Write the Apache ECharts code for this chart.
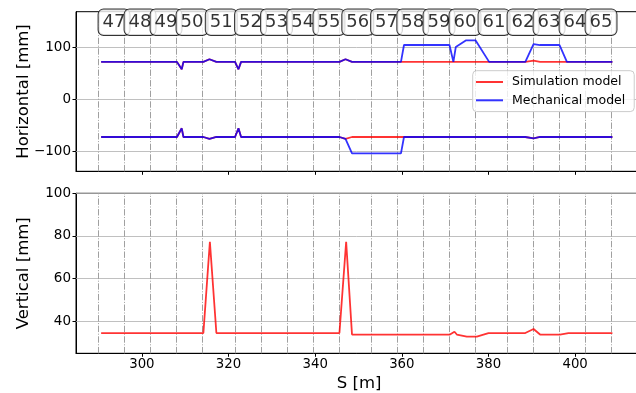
<!DOCTYPE html>
<html><head><meta charset="utf-8">
<script src="https://cdn.jsdelivr.net/npm/echarts@6/dist/echarts.min.js"></script>
<style>html,body{margin:0;padding:0;background:#fff}#c{width:636px;height:393px}</style>
</head><body><div id="c"></div>
<script>
// ---- data ----
const cellLabels = ['47','48','49','50','51','52','53','54','55','56','57','58','59','60','61','62','63','64','65'];
const cellBounds = [290.0, 296.0, 302.0, 308.0, 314.0, 321.5, 327.5, 333.5, 339.6, 345.6, 352.9, 358.9, 365.0, 371.0, 377.0, 384.4, 390.4, 396.4, 402.4, 408.4];
const xTicks = [300, 320, 340, 360, 380, 400];
const hTicks = [-100, 0, 100];
const vTicks = [40, 60, 80, 100];

// Simulation model, horizontal aperture
const simHS      = [290.6, 308.1, 309.2, 309.6, 314.2, 315.6, 317.2, 321.5, 322.3, 322.9, 345.6, 347.0, 348.5, 388.5, 390.4, 391.9, 408.6];
const simHUpper  = [72, 72, 57.7, 72, 72, 77, 72, 72, 57.7, 72, 72, 77, 72, 72, 74.2, 72, 72];
const simHLower  = [-72.5, -72.5, -55.8, -72.5, -72.5, -76.3, -72.5, -72.5, -55.8, -72.5, -72.5, -76.3, -72.5, -72.5, -75, -72.5, -72.5];

// Mechanical model, horizontal aperture
const mechUpperS = [290.6, 308.1, 309.2, 309.6, 314.2, 315.6, 317.2, 321.5, 322.3, 322.9, 345.6, 347.0, 348.5, 359.8, 360.5, 371.0, 371.9, 372.45, 374.85, 377.0, 380.15, 388.5, 390.4, 391.9, 396.4, 398.1, 408.6];
const mechUpper  = [72, 72, 57.7, 72, 72, 77, 72, 72, 57.7, 72, 72, 77, 72, 72, 104.4, 104.4, 72, 100.5, 113.5, 113.5, 72, 72, 106.3, 104.4, 104.4, 72, 72];
const mechLowerS = [290.6, 308.1, 309.2, 309.6, 314.2, 315.6, 317.2, 321.5, 322.3, 322.9, 345.6, 347.0, 348.5, 359.8, 360.5, 388.5, 390.4, 391.9, 408.6];
const mechLower  = [-72.5, -72.5, -55.8, -72.5, -72.5, -76.3, -72.5, -72.5, -55.8, -72.5, -72.5, -76, -104, -104, -72.5, -72.5, -75, -72.5, -72.5];

// Simulation model, vertical aperture
const simVS = [290.6, 302.3, 302.7, 303.1, 308.8, 309.2, 309.6, 314.2, 315.7, 317.2, 321.9, 322.3, 322.7, 340.0, 340.4, 340.8, 345.6, 347.15, 348.5, 359.3, 359.7, 360.3, 371.1, 372.15, 372.7, 375.0, 377.3, 380.0, 388.5, 390.4, 391.9, 396.5, 398.45, 408.6];
const simV  = [34.5, 34.5, 34.9, 34.5, 34.5, 34.9, 34.5, 34.5, 77.3, 34.5, 34.5, 34.9, 34.5, 34.5, 34.9, 34.5, 34.5, 77.3, 33.8, 33.8, 33.4, 33.8, 33.8, 35.1, 33.8, 32.8, 32.8, 34.5, 34.5, 36.4, 33.8, 33.8, 34.5, 34.5];

// ---- chart ----
const FONT = 'DejaVu Sans';
const RED = 'rgba(255,0,0,0.8)';
const BLUE = 'rgba(0,0,255,0.8)';
const zip = (xs, ys) => xs.map((x, i) => [x, ys[i]]);
const minus = v => String(v).replace('-', '\u2212');
const LABEL_Y = 148.4;

const gridStyle = { color: '#b0b0b0', width: 0.8, type: 'solid' };
const dashStyle = { color: '#a0a0a0', width: 1, type: [6.4, 1.6, 1, 1.6] };

function guideLines(yVals) {
  return {
    silent: true, symbol: ['none', 'none'], z: 1, animation: false,
    label: { show: false },
    emphasis: { disabled: true },
    data: [
      ...yVals.map(v => ({ yAxis: v, lineStyle: gridStyle })),
      ...cellBounds.map(v => ({ xAxis: v, lineStyle: dashStyle }))
    ]
  };
}

function xAxisCfg(idx, showLabels) {
  return {
    type: 'value', gridIndex: idx, min: 284.8, max: 415.5,
    axisLine: { show: true, onZero: false, lineStyle: { color: '#000', width: 1 } },
    axisTick: { show: true, customValues: xTicks, length: 3.5, lineStyle: { color: '#000' } },
    axisLabel: { show: showLabels, customValues: xTicks, fontSize: 13.3, fontFamily: FONT, color: '#000', margin: 5 },
    splitLine: { show: false },
    name: showLabels ? 'S [m]' : '', nameLocation: 'middle', nameGap: 21.5, nameMoveOverlap: false,
    nameTextStyle: { fontSize: 16.5, fontFamily: FONT, color: '#000', verticalAlign: 'top' }
  };
}
function yAxisCfg(idx, min, max, ticks, name) {
  return {
    type: 'value', gridIndex: idx, min: min, max: max,
    axisLine: { show: true, onZero: false, lineStyle: { color: '#000', width: 1 } },
    axisTick: { show: true, customValues: ticks, length: 3.5, lineStyle: { color: '#000' } },
    axisLabel: { customValues: ticks, fontSize: 13.5, fontFamily: FONT, color: '#000', margin: 5, formatter: minus },
    splitLine: { show: false },
    name: name, nameLocation: 'middle', nameGap: 44, nameMoveOverlap: false,
    nameTextStyle: { fontSize: 16.5, fontFamily: FONT, color: '#000' }
  };
}
function lineSeries(name, data, color, xi, yi, z, marks) {
  const s = {
    type: 'line', name: name, data: data, xAxisIndex: xi, yAxisIndex: yi,
    showSymbol: false, symbol: 'none', z: z, animation: false,
    color: color, lineStyle: { color: color, width: 1.8 },
    emphasis: { disabled: true }
  };
  if (marks) s.markLine = marks;
  return s;
}

const chart = echarts.init(document.getElementById('c'), null, { renderer: 'canvas' });
chart.setOption({
  animation: false,
  backgroundColor: '#fff',
  textStyle: { fontFamily: FONT },
  grid: [
    { left: 76, top: 11.7, width: 566.3, height: 159.6, show: true, borderColor: '#000', borderWidth: 1, backgroundColor: 'transparent', outerBoundsMode: 'none', containLabel: false },
    { left: 76, top: 193.3, width: 566.3, height: 160, show: true, borderColor: '#000', borderWidth: 1, backgroundColor: 'transparent', outerBoundsMode: 'none', containLabel: false }
  ],
  xAxis: [xAxisCfg(0, false), xAxisCfg(1, true)],
  yAxis: [
    yAxisCfg(0, -138.5, 168.5, hTicks, 'Horizontal [mm]'),
    yAxisCfg(1, 25, 100, vTicks, 'Vertical [mm]')
  ],
  legend: {
    data: ['Simulation model', 'Mechanical model'],
    orient: 'vertical', left: 472.7, top: 70.7,
    icon: 'rect', itemWidth: 27, itemHeight: 2, itemGap: 3.3,
    padding: [3.8, 9, 3.8, 3.3],
    backgroundColor: 'rgba(255,255,255,0.8)', borderColor: '#cccccc', borderWidth: 1, borderRadius: 4,
    textStyle: { fontSize: 12.5, fontFamily: FONT, color: '#000', lineHeight: 15, padding: [0, 0, 0, 4] },
    selectedMode: false
  },
  series: [
    lineSeries('Simulation model', zip(simHS, simHUpper), RED, 0, 0, 2, guideLines(hTicks)),
    lineSeries('Simulation model', zip(simHS, simHLower), RED, 0, 0, 2),
    lineSeries('Mechanical model', zip(mechUpperS, mechUpper), BLUE, 0, 0, 3),
    lineSeries('Mechanical model', zip(mechLowerS, mechLower), BLUE, 0, 0, 3),
    lineSeries('Simulation model', zip(simVS, simV), RED, 1, 1, 2, guideLines(vTicks)),
    {
      type: 'scatter', name: 'cells', xAxisIndex: 0, yAxisIndex: 0, z: 10, clip: false,
      symbolSize: 0, animation: false, silent: true,
      data: cellLabels.map((l, i) => ({ name: l, value: [(cellBounds[i] + cellBounds[i + 1]) / 2, LABEL_Y] })),
      label: {
        show: true, position: 'inside', formatter: '{b}', offset: [2.5, 0],
        fontSize: 18, fontFamily: FONT, color: '#000', lineHeight: 19.5,
        backgroundColor: '#fff', borderColor: '#000', borderWidth: 1, borderRadius: 5,
        padding: [3, 4, 3, 4]
      }
    }
  ]
});
</script>
</body></html>
